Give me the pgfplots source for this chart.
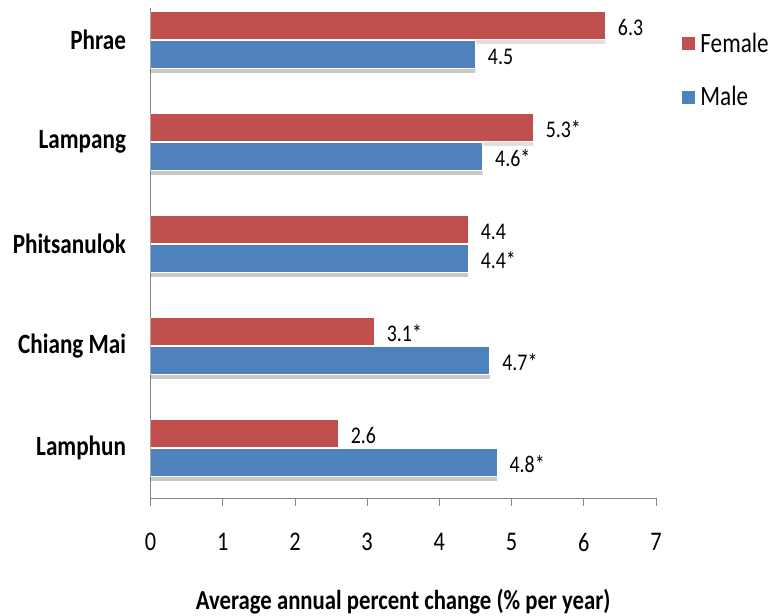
\documentclass[border=0pt]{standalone}
\usepackage{pgfplots}
\pgfplotsset{compat=1.18}
\usepackage{pgfplotstable}
\usepackage{fontspec}
\setmainfont{Carlito}[FakeStretch=0.83]
\definecolor{fem}{HTML}{C0504D}
\definecolor{mal}{HTML}{4F81BD}
\definecolor{axgray}{HTML}{868686}
\pgfplotstableread{
y yf ym f flab m mlab
0 0.142 -0.142 2.6 2.6 4.8 4.8*
1 1.142 0.858 3.1 3.1* 4.7 4.7*
2 2.142 1.858 4.4 4.4 4.4 4.4*
3 3.142 2.858 5.3 5.3* 4.6 4.6*
4 4.142 3.858 6.3 6.3 4.5 4.5
}\datatable
\begin{document}
\begin{tikzpicture}
\useasboundingbox (0,0) rectangle (775bp,616bp);
\begin{axis}[
  at={(150.5bp,118bp)}, anchor=south west,
  scale only axis, width=505.5bp, height=490bp,
  xmin=0, xmax=7, ymin=-0.49, ymax=4.314,
  axis x line*=bottom, axis y line*=left,
  axis line style={axgray, line width=0.8bp, -},
  xtick={0,...,7}, xtick align=outside, major tick length=8bp,
  xtick style={axgray, line width=0.8bp},
  ytick={0,...,4},
  yticklabels={Lamphun, Chiang Mai, Phitsanulok, Lampang, Phrae},
  ytick style={draw=none},
  yticklabel style={font=\fontsize{28}{30}\selectfont\bfseries, xshift=-21bp},
  xticklabel style={font=\fontsize{27}{30}\selectfont, yshift=-24bp},
  /pgf/number format/assume math mode=true,
  xlabel={Average annual percent change (\% per year)},
  xlabel style={font=\fontsize{27.5}{30}\selectfont\bfseries, yshift=-30bp},
  bar width=0.275,
  point meta=explicit symbolic,
  every node near coord/.style={font=\fontsize{24}{26}\selectfont, anchor=west, xshift=9bp, yshift=-2bp, black},
  legend style={at={(1.046,0.958)}, anchor=north west, draw=none, fill=none,
    font=\fontsize{28}{30}\selectfont, row sep=29bp},
  legend cell align=left,
]
% soft shadows
\addplot[xbar, forget plot, fill=black, draw=none, fill opacity=0.12, bar shift=0.142-0.05, bar width=0.26]
  table[x=f, y=y] {\datatable};
\addplot[xbar, forget plot, fill=black, draw=none, fill opacity=0.12, bar shift=-0.142-0.05, bar width=0.26]
  table[x=m, y=y] {\datatable};
\addplot[xbar, forget plot, fill=black, draw=none, fill opacity=0.10, bar shift=-0.142-0.08, bar width=0.2]
  table[x=m, y=y] {\datatable};
% bars
\addplot[xbar, fill=fem, draw=white, line width=1.2bp, bar shift=0.142,
  legend image code/.code={\fill[fem, draw=none] (0bp,-6.5bp) rectangle (13bp,6.5bp); \path[draw=none, fill=none] (0bp,0bp) -- (16bp,0bp);}]
  table[x=f, y=y] {\datatable};
\addplot[xbar, fill=mal, draw=white, line width=1.2bp, bar shift=-0.142,
  legend image code/.code={\fill[mal, draw=none] (0bp,-6.5bp) rectangle (13bp,6.5bp); \path[draw=none, fill=none] (0bp,0bp) -- (16bp,0bp);}]
  table[x=m, y=y] {\datatable};
\legend{Female, Male}
% value labels
\addplot[forget plot, draw=none, mark=none, nodes near coords]
  table[x=f, y=yf, meta=flab] {\datatable};
\addplot[forget plot, draw=none, mark=none, nodes near coords]
  table[x=m, y=ym, meta=mlab] {\datatable};
\end{axis}
\end{tikzpicture}
\end{document}
